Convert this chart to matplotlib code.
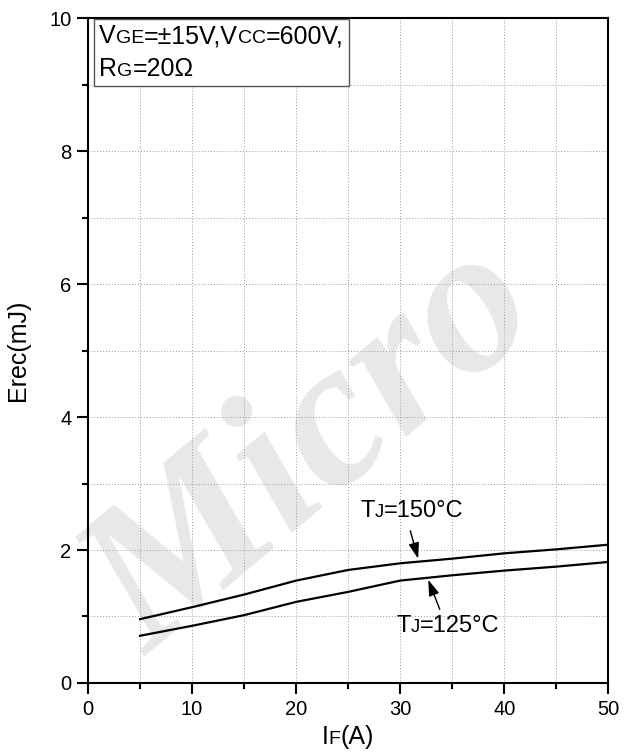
import matplotlib
matplotlib.use("Agg")
import matplotlib.pyplot as plt
from matplotlib.offsetbox import TextArea, HPacker, VPacker, AnchoredOffsetbox, AnnotationBbox
from matplotlib.ticker import MultipleLocator

plt.rcParams['font.family'] = ['Liberation Sans', 'DejaVu Sans']

# data
i_f = [5, 10, 15, 20, 25, 30, 35, 40, 45, 50]
erec_150 = [0.96, 1.14, 1.33, 1.54, 1.70, 1.80, 1.87, 1.95, 2.01, 2.08]
erec_125 = [0.71, 0.86, 1.02, 1.22, 1.37, 1.54, 1.62, 1.69, 1.75, 1.82]

SMALL = 0.78


def rich(parts, size):
    # parts: list of (text, is_small) drawn side by side on a common baseline
    boxes = [TextArea(t, textprops=dict(fontsize=size * (SMALL if s else 1.0), color='black'))
             for t, s in parts]
    return HPacker(children=boxes, align="baseline", pad=0, sep=0)


fig = plt.figure(figsize=(6.29, 7.52), dpi=100)
ax = fig.add_axes([0.140, 0.0918, 0.827, 0.884])
ax.patch.set_alpha(0)

# watermark behind everything
fig.text(0.50, 0.40, "Micro", fontsize=150, family=['Liberation Serif', 'DejaVu Serif'],
         style='italic', weight='bold', rotation=40, color='#e8e8e8',
         ha='center', va='center', zorder=-5)

ax.plot(i_f, erec_150, color='black', lw=1.6)
ax.plot(i_f, erec_125, color='black', lw=1.6)

ax.set_xlim(0, 50)
ax.set_ylim(0, 10)
ax.xaxis.set_major_locator(MultipleLocator(10))
ax.xaxis.set_minor_locator(MultipleLocator(5))
ax.yaxis.set_major_locator(MultipleLocator(2))
ax.yaxis.set_minor_locator(MultipleLocator(1))
ax.tick_params(which='major', direction='out', length=8, width=1.5, labelsize=14.5, pad=4)
ax.tick_params(which='minor', direction='out', length=4.5, width=1.5)
ax.grid(True, which='both', linestyle=(0, (1, 2)), color='#9a9a9a', lw=0.7)
for sp in ax.spines.values():
    sp.set_linewidth(1.5)

ax.set_ylabel("Erec(mJ)", fontsize=18, labelpad=14)

# x label with small-cap subscript
xlab = AnchoredOffsetbox(loc='lower center', child=rich([("I", False), ("F", True), ("(A)", False)], 18),
                         frameon=False, pad=0, borderpad=0,
                         bbox_to_anchor=(0.553, 0.004), bbox_transform=fig.transFigure)
fig.add_artist(xlab)

# condition box
line1 = rich([("V", False), ("GE", True), ("=\u00b115V,V", False), ("CC", True), ("=600V,", False)], 18)
line2 = rich([("R", False), ("G", True), ("=20\u03a9", False)], 18)
cond = VPacker(children=[line1, line2], align="left", pad=0, sep=6)
box = AnchoredOffsetbox(loc='upper left', child=cond, frameon=True, pad=0.3, borderpad=0,
                        bbox_to_anchor=(0.0135, 0.997), bbox_transform=ax.transAxes)
box.patch.set_edgecolor('#555555')
box.patch.set_linewidth(1.0)
box.patch.set_boxstyle("square", pad=0.1)
ax.add_artist(box)

# temperature labels with arrows
ax.annotate("", xy=(31.8, 1.83), xytext=(30.9, 2.33),
            arrowprops=dict(arrowstyle='-|>,head_length=0.6,head_width=0.2',
                            color='black', lw=1.0, mutation_scale=16))
ax.annotate("", xy=(32.6, 1.59), xytext=(33.9, 1.07),
            arrowprops=dict(arrowstyle='-|>,head_length=0.6,head_width=0.2',
                            color='black', lw=1.0, mutation_scale=16))

t150 = AnnotationBbox(rich([("T", False), ("J", True), ("=150\u00b0C", False)], 17), (31.1, 2.58),
                      frameon=False, box_alignment=(0.5, 0.5), pad=0)
t125 = AnnotationBbox(rich([("T", False), ("J", True), ("=125\u00b0C", False)], 17), (34.6, 0.86),
                      frameon=False, box_alignment=(0.5, 0.5), pad=0)
ax.add_artist(t150)
ax.add_artist(t125)

fig.savefig("out.png", dpi=100)
